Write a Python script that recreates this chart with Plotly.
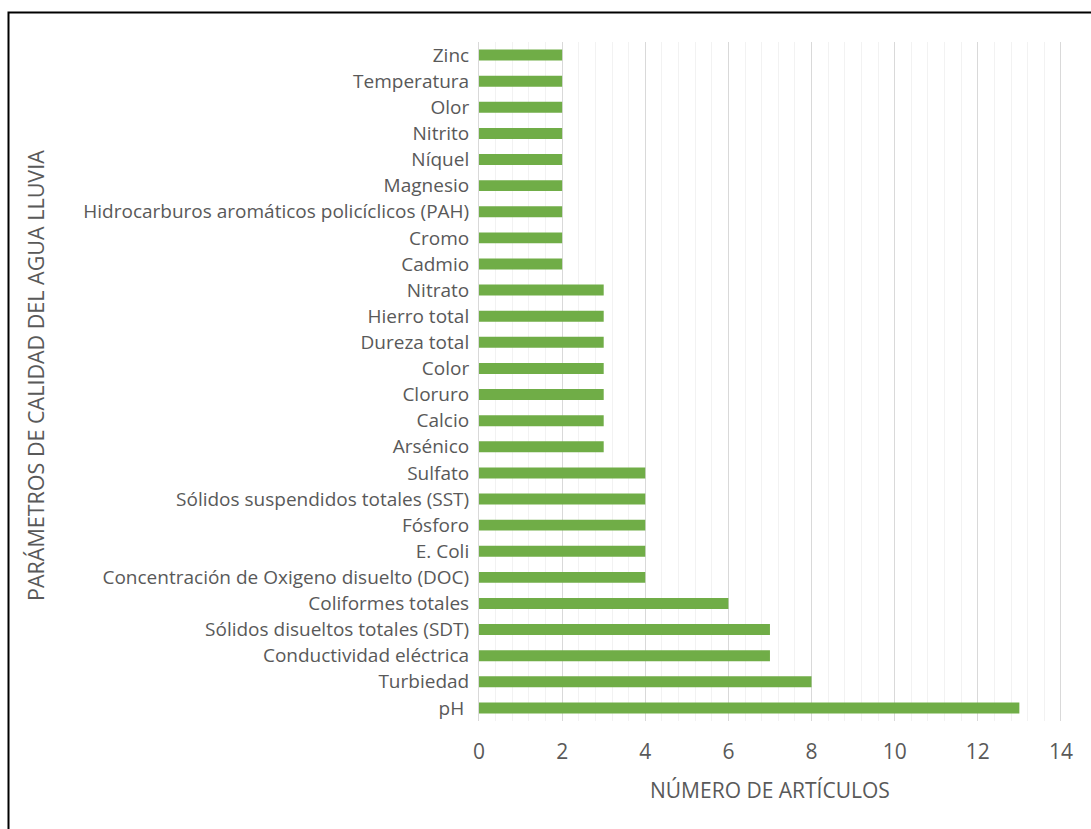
import plotly.graph_objects as go

# Water-quality parameters (bottom to top) and number of articles reporting each
parametros = [
    "pH\u00a0", "Turbiedad", "Conductividad eléctrica", "Sólidos disueltos totales (SDT)",
    "Coliformes totales", "Concentración de Oxigeno disuelto (DOC)", "E. Coli", "Fósforo",
    "Sólidos suspendidos totales (SST)", "Sulfato", "Arsénico", "Calcio", "Cloruro", "Color",
    "Dureza total", "Hierro total", "Nitrato", "Cadmio", "Cromo",
    "Hidrocarburos aromáticos policíclicos (PAH)", "Magnesio", "Níquel", "Nitrito", "Olor",
    "Temperatura", "Zinc",
]
articulos = [13, 8, 7, 7, 6, 4, 4, 4, 4, 4, 3, 3, 3, 3, 3, 3, 3, 2, 2, 2, 2, 2, 2, 2, 2, 2]

x_ticks = [0, 2, 4, 6, 8, 10, 12, 14]

FONT = "Open Sans"
GRAY = "#595959"

W, H = 1091, 829
L, R, T, B = 479, 28, 42, 108
pw, ph = W - L - R, H - T - B

def px_x(p):
    return (p - L) / pw

def px_y(p):
    return 1 - (p - T) / ph

fig = go.Figure(
    go.Bar(
        x=articulos,
        y=parametros,
        orientation="h",
        marker=dict(color="#70ad47", line=dict(width=0)),
    )
)

fig.update_layout(
    width=W,
    height=H,
    margin=dict(l=L, r=R, t=T, b=B),
    paper_bgcolor="white",
    plot_bgcolor="white",
    bargap=0.58,
    showlegend=False,
    font=dict(family=FONT, color=GRAY),
)

fig.update_xaxes(
    range=[0, 14.05],
    tickvals=x_ticks,
    ticktext=[str(v) for v in x_ticks],
    tickfont=dict(size=21, color=GRAY, family=FONT),
    showgrid=True,
    gridcolor="#d9d9d9",
    gridwidth=1,
    minor=dict(dtick=0.4, tick0=0, showgrid=True, gridcolor="#f2f2f2", gridwidth=1),
    zeroline=False,
    showline=False,
    ticks="",
    ticklabelstandoff=16,
)

fig.update_yaxes(
    type="category",
    tickfont=dict(size=19, color=GRAY, family=FONT),
    showgrid=False,
    showline=True,
    linecolor="#d9d9d9",
    linewidth=1,
    ticks="",
    ticklabelstandoff=5,
)

# Axis titles
fig.add_annotation(
    text="NÚMERO DE ARTÍCULOS", x=px_x(770), y=px_y(790), xref="paper", yref="paper",
    xanchor="center", yanchor="middle",
    showarrow=False, font=dict(size=21, color=GRAY, family=FONT),
)
fig.add_annotation(
    text="PARÁMETROS DE CALIDAD DEL AGUA LLUVIA", x=px_x(35), y=px_y(376),
    xref="paper", yref="paper", xanchor="center", yanchor="middle", textangle=-90,
    showarrow=False, font=dict(size=21.5, color=GRAY, family=FONT),
)

# Chart frame
fig.add_shape(
    type="rect", xref="paper", yref="paper",
    x0=px_x(8.5), x1=px_x(1100), y0=px_y(840), y1=px_y(12.5),
    line=dict(color="black", width=2), fillcolor="rgba(0,0,0,0)", layer="above",
)

fig.write_html("out.html")
